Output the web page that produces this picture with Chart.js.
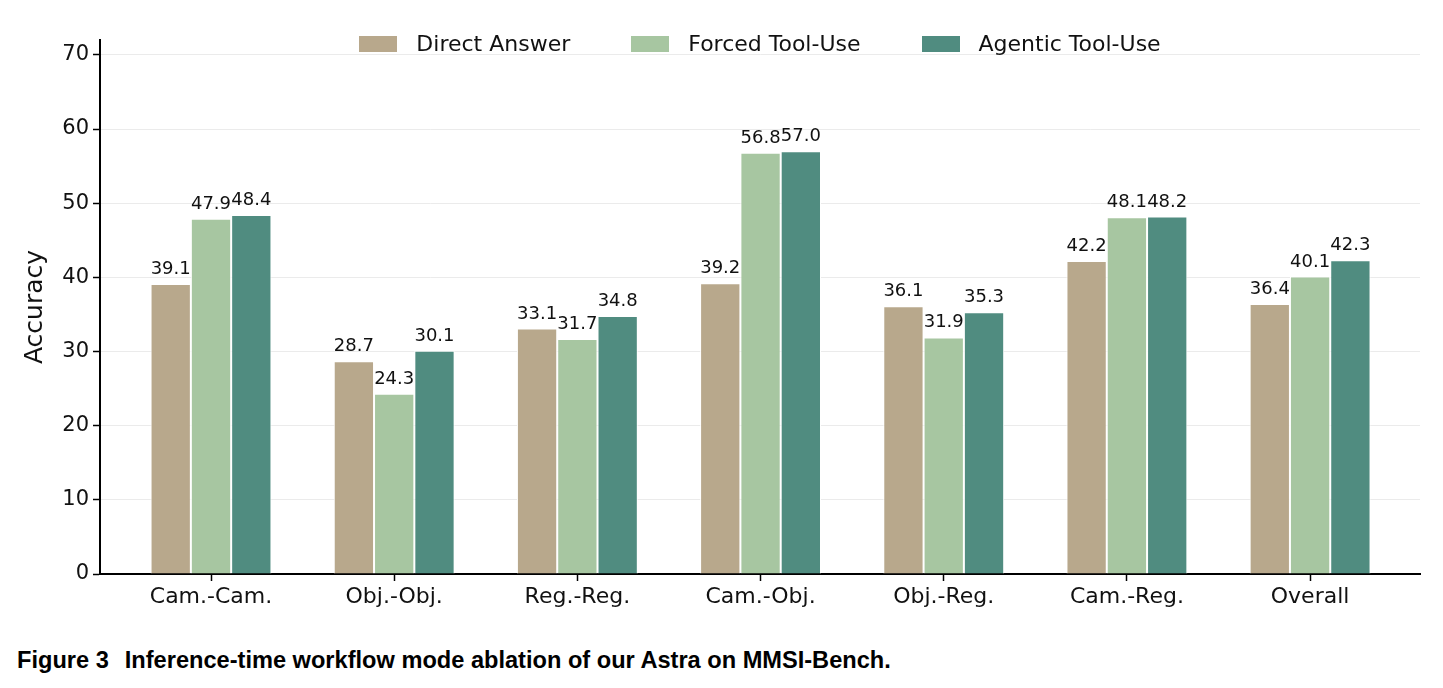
<!DOCTYPE html>
<html>
<head>
<meta charset="utf-8">
<script src="https://cdn.jsdelivr.net/npm/chart.js@4/dist/chart.umd.min.js"></script>
<style>
  body { margin: 0; background: #fff; width: 1443px; height: 688px; position: relative; overflow: hidden; }
  #wrap { position: absolute; left: 0; top: 0; width: 1443px; height: 620px; }
  #legend { position: absolute; left: 100px; top: 31px; width: 1320px; display: flex; justify-content: center; gap: 61px;
            font-family: "DejaVu Sans", sans-serif; font-size: 22px; color: #111; }
  #legend .item { display: flex; align-items: center; }
  #legend .sw { width: 38px; height: 16px; margin-right: 19px; }
  #caption { position: absolute; left: 17px; top: 647px; font-family: "Liberation Sans", Arial, sans-serif;
             font-weight: bold; font-size: 23.6px; color: #000; white-space: pre; }
  #caption .fig { margin-right: 16px; }
</style>
</head>
<body>
<div id="wrap"><canvas id="chart" width="1443" height="620"></canvas></div>
<div id="legend"></div>
<div id="caption"><span class="fig">Figure 3</span>Inference-time workflow mode ablation of our Astra on MMSI-Bench.</div>
<script>
const categories = ["Cam.-Cam.", "Obj.-Obj.", "Reg.-Reg.", "Cam.-Obj.", "Obj.-Reg.", "Cam.-Reg.", "Overall"];
const seriesNames = ["Direct Answer", "Forced Tool-Use", "Agentic Tool-Use"];
const directAnswer = [39.1, 28.7, 33.1, 39.2, 36.1, 42.2, 36.4];
const forcedToolUse = [47.9, 24.3, 31.7, 56.8, 31.9, 48.1, 40.1];
const agenticToolUse = [48.4, 30.1, 34.8, 57.0, 35.3, 48.2, 42.3];
const yTicks = [0, 10, 20, 30, 40, 50, 60, 70];

const colors = ["#b8a88c", "#a7c6a1", "#508c80"];
const values = [directAnswer, forcedToolUse, agenticToolUse];

// html legend sits on top of the plot like matplotlib's
const legendEl = document.getElementById("legend");
seriesNames.forEach((name, i) => {
    const item = document.createElement("div");
    item.className = "item";
    item.innerHTML = `<span class="sw" style="background:${colors[i]}"></span><span>${name}</span>`;
    legendEl.appendChild(item);
});

const valueLabels = {
    id: "valueLabels",
    afterDatasetsDraw(chart) {
        const ctx = chart.ctx;
        ctx.save();
        ctx.font = "18px 'DejaVu Sans'";
        ctx.fillStyle = "#111";
        ctx.textAlign = "center";
        ctx.textBaseline = "alphabetic";
        chart.data.datasets.forEach((ds, di) => {
            chart.getDatasetMeta(di).data.forEach((bar, i) => {
                ctx.fillText(ds.data[i].toFixed(1), bar.x, bar.y - 10);
            });
        });
        ctx.restore();
    }
};

const canvas = document.querySelector("#chart");
const chart = new Chart(canvas, {
    type: "bar",
    data: {
        labels: categories.map((_, i) => i),
        datasets: seriesNames.map((name, i) => ({
            label: name,
            data: values[i],
            backgroundColor: colors[i],
            borderColor: "#fff",
            borderWidth: 1,
            borderSkipped: "bottom"
        }))
    },
    options: {
        responsive: false,
        animation: false,
        devicePixelRatio: 1,
        categoryPercentage: 0.66,
        barPercentage: 1.0,
        layout: { padding: { left: 0, right: 23, top: 40, bottom: 0 } },
        plugins: { legend: { display: false }, tooltip: { enabled: false } },
        scales: {
            x: {
                type: "linear",
                offset: false,
                min: -0.606,
                max: 6.6,
                afterFit: s => { s.height = 46; },
                afterBuildTicks: s => { s.ticks = categories.map((_, i) => ({ value: i })); },
                border: { color: "#000", width: 2 },
                grid: { offset: false, drawOnChartArea: false, tickColor: "#000", tickLength: 7, tickWidth: 1.5 },
                ticks: {
                    padding: 3,
                    maxRotation: 0,
                    autoSkip: false,
                    color: "#111",
                    font: { family: "DejaVu Sans", size: 22 },
                    callback: v => categories[v]
                }
            },
            y: {
                min: 0,
                max: 72,
                afterFit: s => { s.width = 100; },
                afterBuildTicks: s => { s.ticks = yTicks.map(v => ({ value: v })); },
                border: { color: "#000", width: 2 },
                grid: { color: "#ebebeb", lineWidth: 1, tickColor: "#000", tickLength: 7, tickWidth: 1.5 },
                ticks: {
                    padding: 4,
                    color: "#111",
                    font: { family: "DejaVu Sans", size: 21 }
                },
                title: {
                    display: true,
                    text: "Accuracy",
                    color: "#111",
                    font: { family: "DejaVu Sans", size: 25 },
                    padding: { top: 20, bottom: 0 }
                }
            }
        }
    },
    plugins: [valueLabels]
});
</script>
</body>
</html>
